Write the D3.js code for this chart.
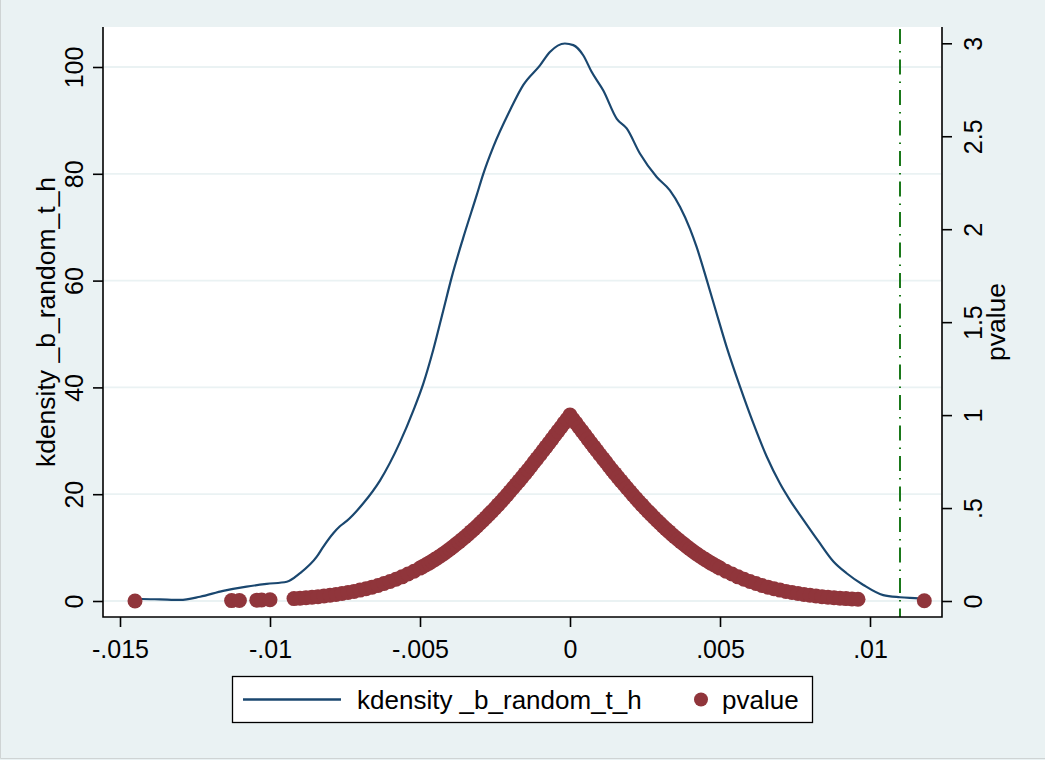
<!DOCTYPE html>
<html><head><meta charset="utf-8">
<script src="https://cdn.jsdelivr.net/npm/d3@7"></script>
<style>html,body{margin:0;padding:0;background:#EAF2F3;} svg{display:block;font-family:"Liberation Sans",Arial,Helvetica,sans-serif;}</style>
</head><body><svg id="c" width="1045" height="760"></svg>
<script>
// ---- data ----
const densityB = [-0.01450,-0.01428,-0.01367,-0.01300,-0.01233,-0.01156,-0.01078,-0.01011,-0.00944,-0.00900,-0.00844,-0.00822,-0.00789,-0.00767,-0.00744,-0.00689,-0.00633,-0.00567,-0.00522,-0.00489,-0.00456,-0.00422,-0.00394,-0.00356,-0.00311,-0.00289,-0.00256,-0.00200,-0.00156,-0.00100,-0.00067,-0.00017,0.00011,0.00044,0.00072,0.00111,0.00156,0.00189,0.00233,0.00289,0.00333,0.00367,0.00400,0.00422,0.00456,0.00489,0.00522,0.00567,0.00611,0.00656,0.00700,0.00733,0.00778,0.00828,0.00878,0.00922,0.00978,0.01044,0.01100,0.01161,0.01181];
const densityY = [0.35,0.37,0.3,0.2,0.8,1.9,2.7,3.2,3.6,5.2,8.3,10.2,12.7,14.0,15.0,18.3,22.6,29.7,35.7,40.7,47.0,54.5,60.7,68.0,76.0,80.0,85.0,91.9,96.6,100.3,102.8,104.4,104.1,102.2,99.1,95.6,90.3,88.5,83.8,79.4,76.9,73.8,69.7,66.3,60.1,53.8,47.6,40.1,33.3,27.0,22.0,18.9,15.2,11.2,7.4,5.2,3.0,1.1,0.7,0.5,0.4];

const pvalB = [
 -0.0145,-0.01128,-0.01102,-0.01044,-0.01028,-0.0100,
 -0.0092,-0.0090,-0.0088,-0.0086,-0.0084,-0.0082,-0.0080,-0.0078,-0.0076,-0.0074,-0.0072,-0.0070,-0.0068,-0.0066,-0.0064,-0.0062,-0.0060,-0.0058,-0.0056,-0.0054,-0.0052,
 -0.0050,-0.0049,-0.0048,-0.0047,-0.0046,-0.0045,-0.0044,-0.0043,-0.0042,-0.0041,-0.0040,-0.0039,-0.0038,-0.0037,-0.0036,-0.0035,-0.0034,-0.0033,-0.0032,-0.0031,-0.0030,-0.0029,-0.0028,-0.0027,-0.0026,-0.0025,-0.0024,-0.0023,-0.0022,-0.0021,-0.0020,-0.0019,-0.0018,-0.0017,-0.0016,-0.0015,-0.0014,-0.0013,-0.0012,-0.0011,-0.0010,-0.0009,-0.0008,-0.0007,-0.0006,-0.0005,-0.0004,-0.0003,-0.0002,-0.0001,
 0.0000,
 0.0001,0.0002,0.0003,0.0004,0.0005,0.0006,0.0007,0.0008,0.0009,0.0010,0.0011,0.0012,0.0013,0.0014,0.0015,0.0016,0.0017,0.0018,0.0019,0.0020,0.0021,0.0022,0.0023,0.0024,0.0025,0.0026,0.0027,0.0028,0.0029,0.0030,0.0031,0.0032,0.0033,0.0034,0.0035,0.0036,0.0037,0.0038,0.0039,0.0040,0.0041,0.0042,0.0043,0.0044,0.0045,0.0046,0.0047,0.0048,0.0049,0.0050,
 0.0052,0.0054,0.0056,0.0058,0.0060,0.0062,0.0064,0.0066,0.0068,0.0070,0.0072,0.0074,0.0076,0.0078,0.0080,0.0082,0.0084,0.0086,0.0088,0.0090,0.0092,0.0094,0.0096,
 0.01181];
const pvalP = [
 0.0001,0.0023,0.0029,0.0047,0.0054,0.0069,
 0.0129,0.0151,0.0175,0.0202,0.0233,0.0268,0.0308,0.0351,0.0402,0.0455,0.0517,0.0585,0.0661,0.0746,0.0837,0.094,0.105,0.117,0.130,0.145,0.160,
 0.177,0.186,0.195,0.204,0.214,0.224,0.234,0.245,0.256,0.268,0.280,0.292,0.305,0.317,0.331,0.344,0.358,0.373,0.387,0.402,0.418,0.433,0.449,0.466,0.482,0.499,0.517,0.534,0.552,0.570,0.589,0.608,0.627,0.646,0.665,0.685,0.705,0.725,0.746,0.766,0.787,0.808,0.829,0.850,0.871,0.893,0.914,0.935,0.957,0.978,
 1.000,
 0.978,0.957,0.935,0.914,0.893,0.871,0.850,0.829,0.808,0.787,0.766,0.746,0.725,0.705,0.685,0.665,0.646,0.627,0.608,0.589,0.570,0.552,0.534,0.517,0.499,0.482,0.466,0.449,0.433,0.418,0.402,0.387,0.373,0.358,0.344,0.331,0.317,0.305,0.292,0.280,0.268,0.256,0.245,0.234,0.224,0.214,0.204,0.195,0.186,0.177,
 0.160,0.145,0.130,0.117,0.105,0.094,0.0837,0.0746,0.0661,0.0585,0.0517,0.0455,0.0402,0.0351,0.0308,0.0268,0.0233,0.0202,0.0175,0.0151,0.0129,0.0111,0.0095,
 0.0014];

const xTicks = [-0.015,-0.01,-0.005,0,0.005,0.01];
const xTickLabels = ["-.015","-.01","-.005","0",".005",".01"];
const yLeftTicks = [0,20,40,60,80,100];
const yLeftTickLabels = ["0","20","40","60","80","100"];
const yRightTicks = [0,0.5,1,1.5,2,2.5,3];
const yRightTickLabels = ["0",".5","1","1.5","2","2.5","3"];
const xLineValue = 0.011;
const yLeftTitle = "kdensity _b_random_t_h";
const yRightTitle = "pvalue";
const legendLabels = ["kdensity _b_random_t_h","pvalue"];

// ---- layout ----
const W = 1045, H = 760;
const plot = {l:103, r:942, t:27, b:617};
const navy = "#1a476f", maroon = "#90353b", green = "#1a781a", gridC = "#EAF2F3";

const svg = d3.select("#c");
svg.append("rect").attr("width",W).attr("height",H).attr("fill","#EAF2F3");
svg.append("path").attr("d",`M0.5,0V${H-1.5}H${W}`).attr("fill","none").attr("stroke","#cfd4d4").attr("stroke-width",1);
svg.append("rect").attr("x",plot.l).attr("y",plot.t).attr("width",plot.r-plot.l).attr("height",plot.b-plot.t).attr("fill","#fff");

const x = d3.scaleLinear().domain([-0.015,0.01]).range([120,870]);
const yL = d3.scaleLinear().domain([0,100]).range([601,67]);
const yR = d3.scaleLinear().domain([0,3]).range([601,43.3]);

// grid
svg.append("g").selectAll("line").data(yLeftTicks).join("line")
  .attr("x1",plot.l+1).attr("x2",plot.r-1).attr("y1",d=>yL(d)).attr("y2",d=>yL(d))
  .attr("stroke",gridC).attr("stroke-width",1.8);

// xline
svg.append("line").attr("x1",x(xLineValue)).attr("x2",x(xLineValue)).attr("y1",plot.t+2).attr("y2",plot.b)
  .attr("stroke",green).attr("stroke-width",2).attr("stroke-dasharray","15,7,1.5,7");

// density
const line = d3.line().x((d,i)=>x(densityB[i])).y((d,i)=>yL(densityY[i])).curve(d3.curveMonotoneX);
svg.append("path").datum(densityB).attr("d",line).attr("fill","none").attr("stroke",navy).attr("stroke-width",2.2).attr("stroke-linejoin","round");

// pvalue markers
svg.append("g").selectAll("circle").data(pvalB).join("circle")
  .attr("cx",(d,i)=>x(pvalB[i])).attr("cy",(d,i)=>yR(pvalP[i])).attr("r",7.5).attr("fill",maroon);

// axes
const fontTick = 25;
const axL = svg.append("g").attr("transform",`translate(${plot.l},0)`)
  .call(d3.axisLeft(yL).tickValues(yLeftTicks).tickFormat((d,i)=>yLeftTickLabels[i]).tickSize(10));
axL.select(".domain").remove();
axL.selectAll(".tick line").attr("stroke","#000").attr("stroke-width",1.6);
axL.selectAll(".tick text").attr("transform","rotate(-90)").attr("x",0).attr("y",-20).attr("dy",0)
  .attr("text-anchor","middle").attr("font-size",fontTick).attr("fill","#000").attr("font-family",null);

const axR = svg.append("g").attr("transform",`translate(${plot.r},0)`)
  .call(d3.axisRight(yR).tickValues(yRightTicks).tickFormat((d,i)=>yRightTickLabels[i]).tickSize(10));
axR.select(".domain").remove();
axR.selectAll(".tick line").attr("stroke","#000").attr("stroke-width",1.6);
axR.selectAll(".tick text").attr("transform","rotate(-90)").attr("x",0).attr("y",40).attr("dy",0)
  .attr("text-anchor","middle").attr("font-size",fontTick).attr("fill","#000").attr("font-family",null);

const axB = svg.append("g").attr("transform",`translate(0,${plot.b})`)
  .call(d3.axisBottom(x).tickValues(xTicks).tickFormat((d,i)=>xTickLabels[i]).tickSize(10));
axB.select(".domain").remove();
axB.selectAll(".tick line").attr("stroke","#000").attr("stroke-width",1.6);
axB.selectAll(".tick text").attr("y",41).attr("dy",0).attr("font-size",fontTick).attr("fill","#000").attr("font-family",null);

// axis lines
svg.append("path").attr("d",`M${plot.l},${plot.t}V${plot.b}H${plot.r}V${plot.t}`)
  .attr("fill","none").attr("stroke","#000").attr("stroke-width",1.6);

// titles
svg.append("text").attr("transform",`translate(55,322) rotate(-90)`).attr("text-anchor","middle")
  .attr("font-size",26.5).text(yLeftTitle);
svg.append("text").attr("transform",`translate(1005,322) rotate(-90)`).attr("text-anchor","middle")
  .attr("font-size",26.5).text(yRightTitle);

// legend
const lg = svg.append("g");
lg.append("rect").attr("x",232.5).attr("y",676.5).attr("width",580).attr("height",46)
  .attr("fill","#fff").attr("stroke","#000").attr("stroke-width",1.3);
lg.append("line").attr("x1",243).attr("x2",341).attr("y1",699.5).attr("y2",699.5).attr("stroke",navy).attr("stroke-width",2.5);
lg.append("text").attr("x",357).attr("y",709).attr("font-size",26).text(legendLabels[0]);
lg.append("circle").attr("cx",701).attr("cy",699.5).attr("r",7).attr("fill",maroon);
lg.append("text").attr("x",722).attr("y",709).attr("font-size",26).text(legendLabels[1]);
</script></body></html>
